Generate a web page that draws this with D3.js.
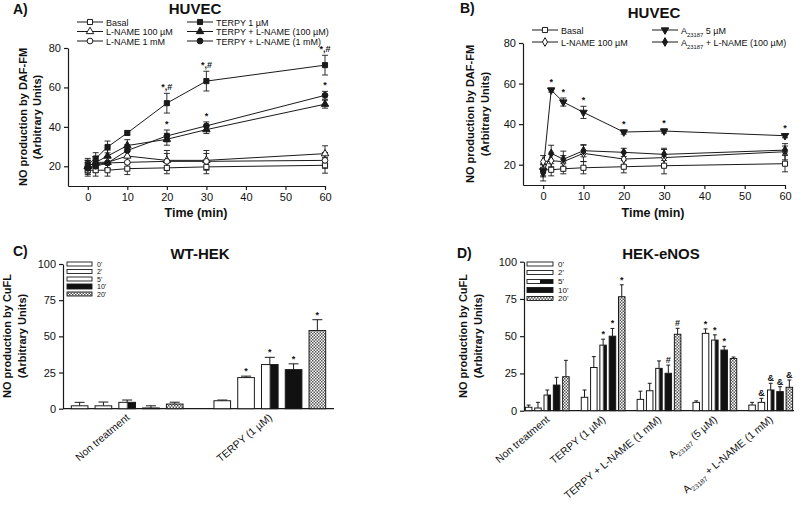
<!DOCTYPE html>
<html><head><meta charset="utf-8">
<script src="https://cdnjs.cloudflare.com/ajax/libs/d3/7.8.5/d3.min.js"></script>
<style>body{margin:0;background:#fff} text{font-family:"Liberation Sans",Arial,sans-serif;fill:#111}</style>
</head><body><svg id="c" width="800" height="505"></svg>
<script>
// ---------------- DATA ----------------
const times = [0, 2, 5, 10, 20, 30, 60];
const xTicksLine = [0, 10, 20, 30, 40, 50, 60];
const yTicksLine = [20, 40, 60, 80];
const yTicksBar = [0, 25, 50, 75, 100];

// Panel A (HUVEC, DAF-FM)
const basalA = [18, 18, 18, 18.8, 19.2, 19.7, 20.5];
const basalAErr = [2, 3, 3, 3, 3, 3.5, 4];
const lname100A = [20, 22, 22, 25.2, 23, 23, 26.4];
const lname100AErr = [3, 3, 3, 4, 5, 5, 4];
const lname1A = [19, 21, 21.7, 22, 22.5, 22.5, 23];
const lname1AErr = [4, 4, 3, 3, 4, 4, 4];
const terpyA = [21, 23.9, 29.8, 36.9, 52, 63.2, 71.3];
const terpyAErr = [3, 3, 3, 1, 5, 5, 5];
const terpyL100A = [20, 22, 25.2, 30.5, 33.7, 38.6, 51.5];
const terpyL100AErr = [3, 3, 3, 3, 3, 2, 2];
const terpyL1A = [19, 20, 21.7, 28, 35.4, 40.5, 56];
const terpyL1AErr = [3, 3, 3, 3, 3, 2, 2];

// Panel B (HUVEC, DAF-FM)
const basalB = [17.5, 17.5, 18, 18.5, 19, 19.5, 20.5];
const basalBErr = [3, 3, 2.5, 3, 3, 4, 4];
const lnameB = [21.5, 22, 21.5, 25.6, 22.8, 23.5, 26.4];
const lnameBErr = [3, 3, 3, 4, 3, 4, 4];
const a23B = [17, 56.8, 50.9, 45.8, 36.1, 36.6, 34.3];
const a23BErr = [3, 1, 2, 3, 1, 1, 1];
const a23LB = [16, 25.6, 22.7, 26.9, 26.1, 25.1, 27.2];
const a23LBErr = [4, 4, 4, 3, 2, 3, 2];

// Bar panels
const timeLabels = ["0'", "2'", "5'", "10'", "20'"];
const groupsC = ["Non treatment", "TERPY (1 µM)"];
const cNon = [2, 2, 4.4, 0.5, 3.2];
const cNonErr = [2.4, 2.6, 1.6, 1.5, 1.3];
const cTerpy = [5.5, 21.5, 30.5, 27, 54];
const cTerpyErr = [0.5, 1, 5, 4, 7.5];
const cMarks = [["", "", "", "", ""], ["", "*", "*", "*", "*"]];

const groupsD = ["Non treatment", "TERPY (1 µM)", "TERPY + L-NAME (1 mM)", "A23187 (5 µM)", "A23187 + L-NAME (1 mM)"];
const dNon = [2.3, 1.8, 10.5, 17.2, 22.8];
const dNonErr = [1.5, 3.8, 3.4, 5.2, 11];
const dTerpy = [9, 29, 44, 50, 76.5];
const dTerpyErr = [4.9, 7.3, 4, 5.2, 8];
const dTerpyL = [7.6, 13.4, 28.4, 25.1, 51.3];
const dTerpyLErr = [5.5, 5, 5, 5.5, 4];
const dA23 = [5.6, 51.9, 47.4, 40.7, 35];
const dA23Err = [1, 3, 3.5, 2.5, 1];
const dA23L = [3.8, 5.6, 13.9, 12.8, 15.7];
const dA23LErr = [1.8, 2.7, 4.5, 3.3, 4.9];
const dMarks = [["", "", "", "", ""], ["", "", "*", "*", "*"], ["", "", "", "#", "#"],
                ["", "*", "*", "*", ""], ["", "&", "&", "&", "&"]];

// ---------------- DRAW ----------------
const svg = d3.select("#c");
const INK = "#1a1a1a";
const defs = svg.append("defs");
const hatch = defs.append("pattern").attr("id", "hatch").attr("patternUnits", "userSpaceOnUse")
  .attr("width", 3).attr("height", 3);
hatch.append("rect").attr("width", 3).attr("height", 3).attr("fill", "#fff");
hatch.append("rect").attr("width", 1.5).attr("height", 1.5).attr("fill", "#555");
hatch.append("rect").attr("x", 1.5).attr("y", 1.5).attr("width", 1.5).attr("height", 1.5).attr("fill", "#555");
const split = defs.append("pattern").attr("id", "split").attr("patternUnits", "objectBoundingBox")
  .attr("patternContentUnits", "objectBoundingBox").attr("width", 1).attr("height", 1);
split.append("rect").attr("width", 0.5).attr("height", 1).attr("fill", "#fff");
split.append("rect").attr("x", 0.5).attr("width", 0.5).attr("height", 1).attr("fill", "#111");
const fills = ["#fff", "#fff", "url(#split)", "#111", "url(#hatch)"];

function styleAxis(sel, fs) {
  sel.selectAll("path,line").attr("stroke", INK).attr("stroke-width", 1.2);
  sel.selectAll("text").attr("font-size", fs).attr("fill", "#111")
    .attr("font-family", '"Liberation Sans",Arial,sans-serif');
}

function label(x, y, txt, opts = {}) {
  const t = svg.append("text").attr("x", x).attr("y", y)
    .attr("font-size", opts.size || 11)
    .attr("font-weight", opts.bold ? "bold" : "normal")
    .attr("text-anchor", opts.anchor || "start");
  if (opts.rotate != null) t.attr("transform", `rotate(${opts.rotate},${x},${y})`);
  addText(t, txt);
  return t;
}
// renders "A23187" with subscript
function addText(t, txt) {
  const parts = txt.split("A23187");
  parts.forEach((p, i) => {
    if (i > 0) {
      t.append("tspan").text("A");
      t.append("tspan").attr("font-size", "0.65em").attr("dy", 3).text("23187");
      t.append("tspan").attr("dy", -3).text(p || "");
    } else if (p) t.append("tspan").text(p);
  });
}

function yTitle(x1, x2, cy, l1, l2) {
  label(x1, cy, l1, { bold: true, size: 11, anchor: "middle", rotate: -90 });
  label(x2, cy, l2, { bold: true, size: 11, anchor: "middle", rotate: -90 });
}

const sym = {
  square: d3.symbol().type(d3.symbolSquare).size(26)(),
  tri: d3.symbol().type(d3.symbolTriangle).size(24)(),
  circle: d3.symbol().type(d3.symbolCircle).size(26)(),
  diamond: d3.symbol().type(d3.symbolDiamond).size(22)()
};
function marker(g, x, y, s) {
  g.append("path").attr("d", sym[s.shape])
    .attr("transform", `translate(${x},${y})` + (s.down ? " rotate(180)" : ""))
    .attr("fill", s.open ? "#fff" : INK).attr("stroke", INK).attr("stroke-width", 1);
}

function linePanel(o) {
  const g = svg.append("g");
  const x = d3.scaleLinear().domain([-5, 60]).range(o.xr);
  const y = d3.scaleLinear().domain([10, 80]).range(o.yr);
  styleAxis(g.append("g").attr("transform", `translate(0,${o.yr[0]})`)
    .call(d3.axisBottom(x).tickValues(xTicksLine).tickSize(4).tickSizeOuter(0).tickPadding(3)), 11);
  styleAxis(g.append("g").attr("transform", `translate(${o.xr[0]},0)`)
    .call(d3.axisLeft(y).tickValues(yTicksLine).tickSize(4).tickSizeOuter(0).tickPadding(3)), 11);
  o.series.forEach(s => {
    const pts = times.map((t, i) => ({ t, v: s.v[i], e: s.e[i] }));
    g.append("path").datum(pts)
      .attr("d", d3.line().x(d => x(d.t)).y(d => y(d.v)))
      .attr("fill", "none").attr("stroke", INK).attr("stroke-width", 1);
    pts.forEach(d => {
      const xx = x(d.t), y1 = y(d.v - d.e), y2 = y(d.v + d.e);
      g.append("line").attr("x1", xx).attr("x2", xx).attr("y1", y1).attr("y2", y2).attr("stroke", INK).attr("stroke-width", 0.9);
      [y1, y2].forEach(yy => g.append("line").attr("x1", xx - 3).attr("x2", xx + 3).attr("y1", yy).attr("y2", yy).attr("stroke", INK).attr("stroke-width", 0.9));
    });
  });
  o.series.forEach(s => times.forEach((t, i) => marker(g, x(t), y(s.v[i]), s)));
  // significance marks
  o.series.forEach(s => (s.marks || []).forEach((m, i) => {
    if (!m) return;
    g.append("text").attr("x", x(times[i])).attr("y", y(s.v[i] + s.e[i]) - 3)
      .attr("text-anchor", "middle").attr("font-size", 9).attr("font-weight", "bold").text(m);
  }));
  // legend
  o.series.forEach((s, i) => {
    const col = o.legCols[Math.floor(i / o.legRows.length)];
    const ly = o.legRows[i % o.legRows.length];
    g.append("line").attr("x1", col).attr("x2", col + 26).attr("y1", ly).attr("y2", ly).attr("stroke", INK).attr("stroke-width", 1);
    marker(g, col + 13, ly, s);
    label(col + 29, ly + 3.5, s.name, { size: 9 });
  });
}

linePanel({
  xr: [68, 325], yr: [186, 48],
  legCols: [77, 187], legRows: [22, 31.5, 41],
  series: [
    { name: "Basal", v: basalA, e: basalAErr, shape: "square", open: true },
    { name: "L-NAME 100  µM", v: lname100A, e: lname100AErr, shape: "tri", open: true },
    { name: "L-NAME 1 mM", v: lname1A, e: lname1AErr, shape: "circle", open: true },
    { name: "TERPY 1  µM", v: terpyA, e: terpyAErr, shape: "square", marks: ["", "", "", "", "*,#", "*,#", "*,#"] },
    { name: "TERPY + L-NAME (100  µM)", v: terpyL100A, e: terpyL100AErr, shape: "tri" },
    { name: "TERPY + L-NAME (1 mM)", v: terpyL1A, e: terpyL1AErr, shape: "circle", marks: ["", "", "", "", "*", "*", "*"] }
  ]
});
linePanel({
  xr: [523, 785], yr: [185, 43],
  legCols: [532, 652], legRows: [30, 42],
  series: [
    { name: "Basal", v: basalB, e: basalBErr, shape: "square", open: true },
    { name: "L-NAME 100  µM", v: lnameB, e: lnameBErr, shape: "diamond", open: true },
    { name: "A23187 5  µM", v: a23B, e: a23BErr, shape: "tri", down: true, marks: ["", "*", "*", "*", "*", "*", "*"] },
    { name: "A23187 + L-NAME (100  µM)", v: a23LB, e: a23LBErr, shape: "diamond" }
  ]
});

function barPanel(o) {
  const g = svg.append("g");
  const nSlots = o.groups.length * 6 - 1;
  const x = d3.scaleBand().domain(d3.range(nSlots)).range(o.xr).paddingInner(0.3).paddingOuter(o.po);
  const y = d3.scaleLinear().domain([0, 100]).range(o.yr);
  styleAxis(g.append("g").attr("transform", `translate(${o.xr[0]},0)`)
    .call(d3.axisLeft(y).tickValues(yTicksBar).tickSize(4).tickSizeOuter(0).tickPadding(3)), 11);
  g.append("line").attr("x1", o.xr[0]).attr("x2", o.xr[1]).attr("y1", o.yr[0]).attr("y2", o.yr[0])
    .attr("stroke", INK).attr("stroke-width", 1.2);
  const bw = x.bandwidth();
  o.groups.forEach((grp, gi) => {
    o.values[gi].forEach((v, ti) => {
      const e = o.errs[gi][ti];
      const x0 = x(gi * 6 + ti), cx = x0 + bw / 2;
      g.append("line").attr("x1", cx).attr("x2", cx).attr("y1", y(v)).attr("y2", y(v + e)).attr("stroke", INK).attr("stroke-width", 1);
      g.append("line").attr("x1", cx - bw * 0.3).attr("x2", cx + bw * 0.3).attr("y1", y(v + e)).attr("y2", y(v + e)).attr("stroke", INK).attr("stroke-width", 1);
      g.append("rect").attr("x", x0).attr("y", y(v)).attr("width", bw).attr("height", y(0) - y(v))
        .attr("fill", fills[ti]).attr("stroke", INK).attr("stroke-width", 1);
      const m = o.marks[gi][ti];
      if (m) g.append("text").attr("x", cx).attr("y", y(v + e) - 2).attr("text-anchor", "middle")
        .attr("font-size", 9).attr("font-weight", "bold").text(m);
    });
    const gc = x(gi * 6 + 2) + bw / 2;
    label(gc + 3, o.yr[0] + 10, grp, { size: 10.5, anchor: "end", rotate: -40 });
  });
  // legend
  timeLabels.forEach((t, i) => {
    const ly = o.legRows[i];
    const h = i === 3 ? 5 : 4;
    g.append("rect").attr("x", o.legX).attr("y", ly - h / 2).attr("width", o.legW).attr("height", h)
      .attr("fill", o.legFills[i]).attr("stroke", INK).attr("stroke-width", 0.9);
    label(o.legX + o.legW + 5, ly + 2.8, t, { size: o.legFs });
  });
}

barPanel({
  groups: groupsC, values: [cNon, cTerpy], errs: [cNonErr, cTerpyErr], marks: cMarks,
  xr: [63, 334], yr: [408.7, 264], po: 0.35,
  legX: 67, legW: 25, legRows: [264, 271.5, 279, 286.5, 294], legFs: 7,
  legFills: ["#fff", "#fff", "#fff", "#111", "url(#hatch)"]
});
barPanel({
  groups: groupsD, values: [dNon, dTerpy, dTerpyL, dA23, dA23L],
  errs: [dNonErr, dTerpyErr, dTerpyLErr, dA23Err, dA23LErr], marks: dMarks,
  xr: [524, 794], yr: [410.7, 261.7], po: 0.15,
  legX: 527, legW: 26, legRows: [264, 272.5, 281.5, 290, 298.5], legFs: 8,
  legFills: fills
});

// titles
label(13, 14, "A)", { bold: true, size: 14 });
label(195, 14, "HUVEC", { bold: true, size: 15, anchor: "middle" });
label(460, 13, "B)", { bold: true, size: 14 });
label(654, 18, "HUVEC", { bold: true, size: 15, anchor: "middle" });
label(13, 256, "C)", { bold: true, size: 14 });
label(200, 259, "WT-HEK", { bold: true, size: 15, anchor: "middle" });
label(457, 258, "D)", { bold: true, size: 14 });
label(661, 259, "HEK-eNOS", { bold: true, size: 15, anchor: "middle" });

label(196, 217, "Time (min)", { bold: true, size: 12.5, anchor: "middle" });
label(653, 217, "Time (min)", { bold: true, size: 12.5, anchor: "middle" });

yTitle(27, 41, 117, "NO production by DAF-FM", "(Arbitrary Units)");
yTitle(474, 489, 114, "NO production by DAF-FM", "(Arbitrary Units)");
yTitle(11, 26, 336, "NO production by CuFL", "(Arbitrary Units)");
yTitle(467, 482, 336, "NO production by CuFL", "(Arbitrary Units)");
</script></body></html>
